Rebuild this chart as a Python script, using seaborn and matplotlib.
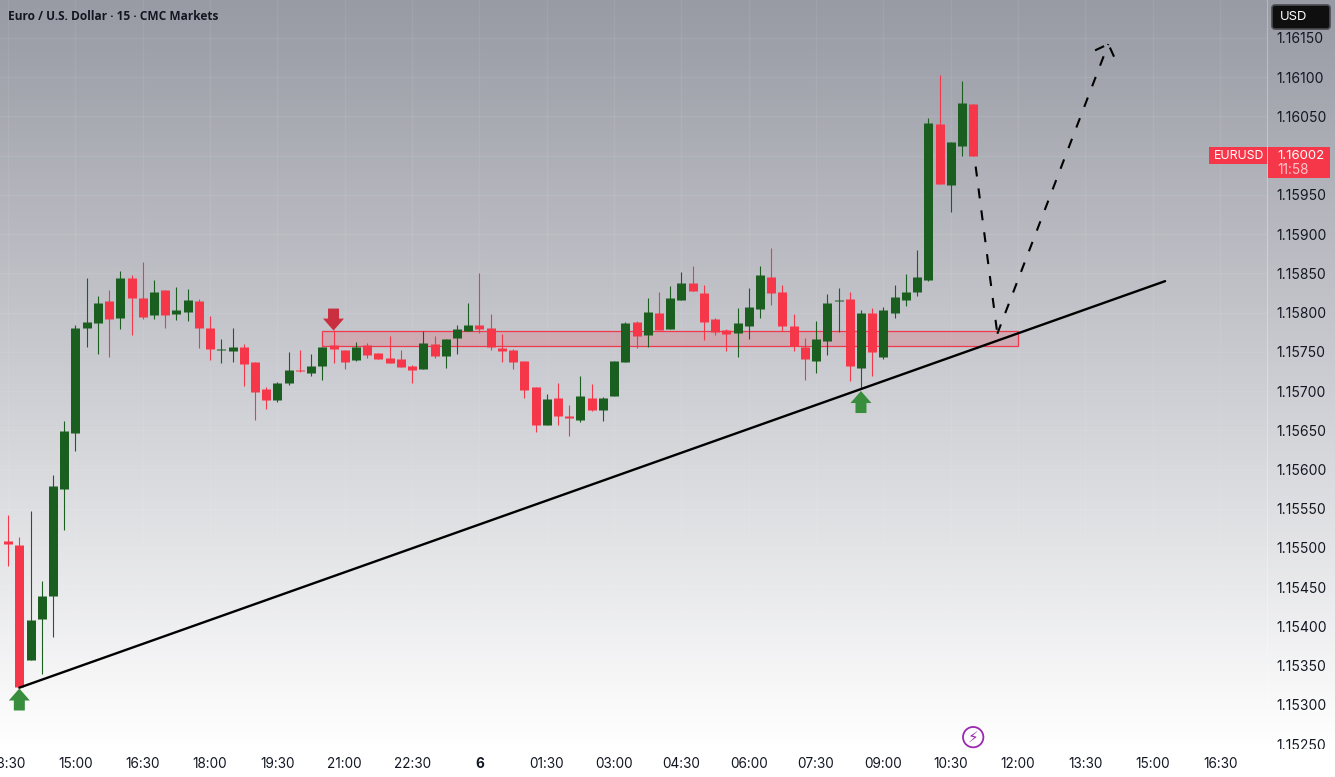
import numpy as np
import pandas as pd
import seaborn as sns
import matplotlib.pyplot as plt
from matplotlib.path import Path
from matplotlib.patches import Rectangle, FancyBboxPatch
from matplotlib.transforms import Bbox, IdentityTransform

# candles, 15 min, first one sits just left of the frame
high = [1.15506, 1.15542, 1.15514, 1.15547, 1.15458, 1.15593, 1.15662, 1.15784, 1.15844, 1.15821,
        1.15829, 1.15853, 1.15848, 1.15864, 1.15841, 1.15829, 1.15833, 1.15830, 1.15817, 1.15796,
        1.15766, 1.15780, 1.15760, 1.15737, 1.15705, 1.15712, 1.15750, 1.15752, 1.15747, 1.15756,
        1.15778, 1.15752, 1.15762, 1.15761, 1.15748, 1.15770, 1.15752, 1.15733, 1.15776, 1.15770,
        1.15766, 1.15784, 1.15812, 1.15850, 1.15798, 1.15773, 1.15754, 1.15738, 1.15705, 1.15696,
        1.15710, 1.15682, 1.15719, 1.15709, 1.15692, 1.15738, 1.15788, 1.15789, 1.15819, 1.15826,
        1.15834, 1.15852, 1.15859, 1.15835, 1.15793, 1.15779, 1.15806, 1.15831, 1.15859, 1.15882,
        1.15835, 1.15798, 1.15768, 1.15789, 1.15824, 1.15831, 1.15826, 1.15803, 1.15806, 1.15807,
        1.15835, 1.15849, 1.15880, 1.16048, 1.16103, 1.16017, 1.16095, 1.16066]
low = [1.15434, 1.15477, 1.15322, 1.15357, 1.15339, 1.15387, 1.15523, 1.15624, 1.15756, 1.15747,
       1.15743, 1.15779, 1.15771, 1.15792, 1.15792, 1.15780, 1.15790, 1.15789, 1.15755, 1.15740,
       1.15736, 1.15737, 1.15706, 1.15663, 1.15677, 1.15686, 1.15708, 1.15724, 1.15719, 1.15714,
       1.15736, 1.15728, 1.15738, 1.15742, 1.15741, 1.15736, 1.15731, 1.15710, 1.15728, 1.15742,
       1.15729, 1.15747, 1.15776, 1.15774, 1.15752, 1.15737, 1.15728, 1.15691, 1.15648, 1.15657,
       1.15657, 1.15643, 1.15661, 1.15675, 1.15662, 1.15694, 1.15737, 1.15755, 1.15756, 1.15778,
       1.15779, 1.15816, 1.15827, 1.15765, 1.15771, 1.15751, 1.15743, 1.15766, 1.15793, 1.15810,
       1.15776, 1.15751, 1.15714, 1.15723, 1.15746, 1.15775, 1.15713, 1.15703, 1.15719, 1.15741,
       1.15793, 1.15808, 1.15821, 1.15840, 1.15964, 1.15928, 1.15999, 1.15999]
open_px = [1.15434, 1.15509, 1.15504, 1.15357, 1.15410, 1.15439, 1.15575, 1.15647, 1.15780, 1.15787,
           1.15815, 1.15793, 1.15844, 1.15819, 1.15797, 1.15829, 1.15798, 1.15801, 1.15815, 1.15780,
           1.15752, 1.15751, 1.15756, 1.15737, 1.15703, 1.15689, 1.15710, 1.15727, 1.15723, 1.15732,
           1.15759, 1.15752, 1.15740, 1.15759, 1.15748, 1.15742, 1.15741, 1.15732, 1.15728, 1.15760,
           1.15745, 1.15768, 1.15776, 1.15784, 1.15780, 1.15755, 1.15752, 1.15738, 1.15705, 1.15657,
           1.15691, 1.15668, 1.15663, 1.15691, 1.15676, 1.15694, 1.15737, 1.15788, 1.15771, 1.15799,
           1.15779, 1.15816, 1.15838, 1.15825, 1.15792, 1.15778, 1.15774, 1.15783, 1.15805, 1.15845,
           1.15826, 1.15783, 1.15756, 1.15738, 1.15764, 1.15815, 1.15817, 1.15729, 1.15799, 1.15743,
           1.15799, 1.15816, 1.15826, 1.15841, 1.16040, 1.15962, 1.16012, 1.16066]
close = [1.15506, 1.15505, 1.15323, 1.15408, 1.15439, 1.15579, 1.15649, 1.15780, 1.15788, 1.15812,
         1.15792, 1.15844, 1.15819, 1.15794, 1.15826, 1.15797, 1.15803, 1.15816, 1.15780, 1.15754,
         1.15754, 1.15756, 1.15734, 1.15699, 1.15689, 1.15710, 1.15727, 1.15726, 1.15732, 1.15756,
         1.15754, 1.15737, 1.15756, 1.15746, 1.15741, 1.15736, 1.15731, 1.15727, 1.15761, 1.15745,
         1.15766, 1.15779, 1.15784, 1.15779, 1.15756, 1.15751, 1.15737, 1.15701, 1.15657, 1.15690,
         1.15668, 1.15666, 1.15694, 1.15676, 1.15691, 1.15738, 1.15787, 1.15770, 1.15801, 1.15778,
         1.15819, 1.15838, 1.15827, 1.15788, 1.15775, 1.15773, 1.15787, 1.15807, 1.15848, 1.15825,
         1.15783, 1.15757, 1.15741, 1.15766, 1.15812, 1.15816, 1.15732, 1.15799, 1.15750, 1.15803,
         1.15820, 1.15826, 1.15845, 1.16041, 1.15964, 1.16017, 1.16067, 1.15999]

time_ticks = [0, 6, 12, 18, 24, 30, 36, 42, 48, 54, 60, 66, 72, 78, 84, 90, 96, 102, 108]
time_labels = ["13:30", "15:00", "16:30", "18:00", "19:30", "21:00", "22:30", "6", "01:30", "03:00",
               "04:30", "06:00", "07:30", "09:00", "10:30", "12:00", "13:30", "15:00", "16:30"]
price_ticks = [1.1525, 1.1530, 1.1535, 1.1540, 1.1545, 1.1550, 1.1555, 1.1560, 1.1565, 1.1570,
               1.1575, 1.1580, 1.1585, 1.1590, 1.1595, 1.1600, 1.1605, 1.1610, 1.1615]
# 1.16000 sits behind the live price tag, so it has no label
price_labels = ["1.15250", "1.15300", "1.15350", "1.15400", "1.15450", "1.15500", "1.15550", "1.15600",
                "1.15650", "1.15700", "1.15750", "1.15800", "1.15850", "1.15900", "1.15950", "",
                "1.16050", "1.16100", "1.16150"]

# drawings
trend_x = [1, 103.1]
trend_y = [1.15322, 1.15840]
zone_x = [28, 90]
zone_y = [1.15758, 1.15776]
path_x = [86.22, 88.15, 98.04]
path_y = [1.15986, 1.15773, 1.16142]
barb_left_x = [96.86, 98.04]
barb_left_y = [1.16134, 1.16142]
barb_right_x = [98.55, 98.04]
barb_right_y = [1.16126, 1.16142]
up_x = [1, 76]
up_y = [1.15321, 1.15700]
down_x = [29]
down_y = [1.15777]

RED = "#f63649"
GREEN = "#1a5e20"
W, H = 1335, 777
TEXT = "#131722"

sns.set_theme(style="white")
plt.rcParams["font.family"] = ["Inter", "DejaVu Sans"]

fig = plt.figure(figsize=(W / 100, H / 100), dpi=100)


def fx(px):
    return px / W


def fy(py):
    return 1 - py / H


# background fade, dark at the top going to white
bg = fig.add_axes([0, 0, 1, 1], zorder=0)
rows = np.arange(H)
fade = np.stack([np.interp(rows, [0, 745], [c, 255]) for c in (152, 154, 164)], axis=1) / 255
bg.imshow(fade[:, None, :], aspect="auto", interpolation="bilinear")
bg.axis("off")

ax = fig.add_axes([0, fy(745), fx(1267), 745 / H], zorder=1)
ax.patch.set_visible(False)

bars = np.arange(-1, len(high) - 1)
is_up = np.array(close) >= np.array(open_px)
side = np.where(is_up, "up", "down")
palette = {"up": GREEN, "down": RED}

wicks = pd.DataFrame({"bar": np.tile(bars, 2), "price": high + low, "side": np.tile(side, 2)})
bodies = pd.DataFrame({"bar": np.tile(bars, 2), "price": open_px + close, "side": np.tile(side, 2)})

ax.add_patch(Rectangle((zone_x[0], zone_y[0]), zone_x[1] - zone_x[0], zone_y[1] - zone_y[0],
                       facecolor=(0.95, 0.21, 0.29, 0.2), edgecolor="#ee3a4c", lw=0.9, zorder=2))

sns.lineplot(data=wicks, x="bar", y="price", units="bar", hue="side", palette=palette,
             estimator=None, sort=False, legend=False, lw=0.8, solid_capstyle="butt", zorder=3, ax=ax)
sns.lineplot(data=bodies, x="bar", y="price", units="bar", hue="side", palette=palette,
             estimator=None, sort=False, legend=False, lw=6.48, solid_capstyle="butt", zorder=4, ax=ax)

sns.lineplot(x=trend_x, y=trend_y, color="black", lw=1.7, estimator=None, sort=False, zorder=5, ax=ax)

dash = (0, (4.8, 5.8))
for xs, ys in [(path_x[:2], path_y[:2]), (path_x[1:], path_y[1:]),
               (barb_left_x, barb_left_y), (barb_right_x, barb_right_y)]:
    sns.lineplot(x=xs, y=ys, color="black", lw=1.5, linestyle=dash, estimator=None, sort=False,
                 zorder=5, ax=ax)

# arrow marker, tip on the anchor point
up_verts = [(0, 0), (10.5, -12), (5.5, -12), (5.5, -22), (-5.5, -22), (-5.5, -12), (-10.5, -12), (0, 0)]
up_arrow = Path(up_verts, closed=True)
down_arrow = Path([(x, -y) for x, y in up_verts], closed=True)
sns.scatterplot(x=up_x, y=up_y, marker=up_arrow, s=1004, color="#388e3c", linewidth=0,
                edgecolor="none", zorder=6, legend=False, ax=ax)
sns.scatterplot(x=down_x, y=down_y, marker=down_arrow, s=1004, color="#c92f3f", linewidth=0,
                edgecolor="none", zorder=6, legend=False, ax=ax)

ax.set_xlim(-8.1 / 11.222, (1267 - 8.1) / 11.222)
ax.set_ylim(1.15249, 1.161982)
ax.set_xlabel("")
ax.set_ylabel("")
ax.set_xticks(time_ticks, time_labels)
ax.set_yticks(price_ticks, price_labels)
ax.yaxis.tick_right()
ax.tick_params(axis="x", length=0, pad=9, labelsize=9.8, labelcolor=TEXT)
ax.tick_params(axis="y", length=0, pad=7, labelsize=10, labelcolor=TEXT)
ax.grid(True, color="white", alpha=0.07, lw=1)
ax.set_axisbelow(True)
for name in ["top", "left", "bottom"]:
    ax.spines[name].set_visible(False)
ax.spines["right"].set_color((1, 1, 1, 0.3))
ax.spines["right"].set_linewidth(0.8)

for lab in ax.get_xticklabels():
    if lab.get_text() == "6":
        lab.set_fontweight("bold")
bottom_label = ax.get_yticklabels()[0]
bottom_label.set_clip_on(True)
bottom_label.set_clip_box(Bbox([[1267, H - 749], [W, H]]))

# purple event marker
ax.scatter([86], [1.15259], s=215, facecolor="none", edgecolor="#9c27b0", linewidth=1.3,
           clip_on=False, zorder=6)
ax.text(86, 1.15259, "\u26a1", color="#9c27b0", fontsize=11, ha="center", va="center",
        family=["DejaVu Sans"], clip_on=False, zorder=7)

# header and labels on the price scale
fig.text(fx(8), fy(16), "Euro / U.S. Dollar \u00b7 15 \u00b7 CMC Markets", color=TEXT,
         family=["Open Sans", "DejaVu Sans"], fontweight="bold", fontsize=8.6, va="center", zorder=8)

usd = FancyBboxPatch((1272, H - 29), 58, 24, boxstyle="round,pad=0,rounding_size=3",
                     transform=IdentityTransform(), facecolor="#0f0f0f", edgecolor="#4a4b50", lw=1.2, zorder=7)
fig.add_artist(usd)
fig.text(fx(1280), fy(17), "USD", color="white", fontsize=9.4, va="center", zorder=8)

fig.add_artist(Rectangle((fx(1209), fy(164)), fx(58), 17 / H, transform=fig.transFigure,
                         facecolor=RED, edgecolor="none", zorder=7))
fig.add_artist(Rectangle((fx(1268), fy(178)), fx(62), 31 / H, transform=fig.transFigure,
                         facecolor=RED, edgecolor="none", zorder=7))
fig.text(fx(1214), fy(156), "EURUSD", color="white", fontsize=8.8, va="center", zorder=8)
fig.text(fx(1277), fy(156), "1.16002", color="white", fontsize=9.5, va="center", zorder=8)
fig.text(fx(1277), fy(170), "11:58", color="#ffc4ca", fontsize=9.8, va="center", zorder=8)

fig.savefig("out.png", dpi=100)
